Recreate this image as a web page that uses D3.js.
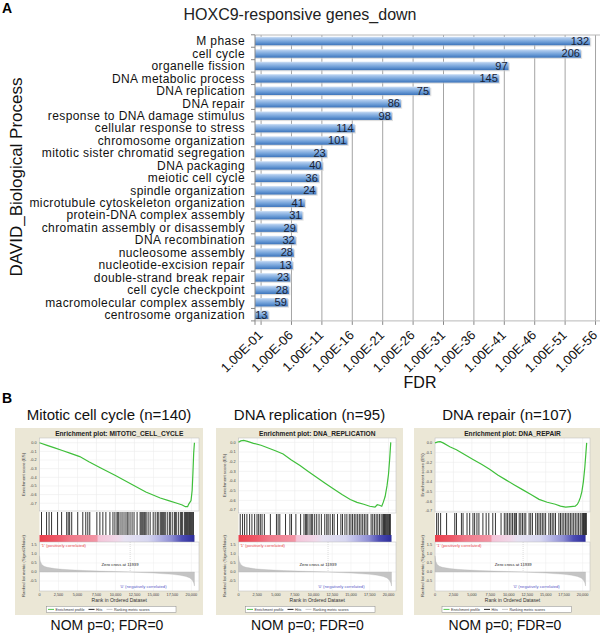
<!DOCTYPE html>
<html><head><meta charset="utf-8">
<script src="https://cdn.jsdelivr.net/npm/d3@7"></script>
<style>
body{margin:0;background:#fff;}
svg{display:block;font-family:"Liberation Sans",Arial,Helvetica,sans-serif;}
</style>
</head><body>
<svg id="c" width="600" height="635"></svg>
<script>
// ---------- Panel A data ----------
const categories = ["M phase","cell cycle","organelle fission","DNA metabolic process","DNA replication","DNA repair","response to DNA damage stimulus","cellular response to stress","chromosome organization","mitotic sister chromatid segregation","DNA packaging","meiotic cell cycle","spindle organization","microtubule cytoskeleton organization","protein-DNA complex assembly","chromatin assembly or disassembly","DNA recombination","nucleosome assembly","nucleotide-excision repair","double-strand break repair","cell cycle checkpoint","macromolecular complex assembly","centrosome organization"];
const fdrValues = [7.9e-56,2.5e-54,2.0e-42,7.9e-41,1.6e-29,1.0e-24,3.2e-23,4.0e-17,6.3e-16,1.6e-12,7.9e-12,3.2e-11,7.9e-11,6.3e-9,1.6e-8,1.3e-7,2.0e-7,4.0e-7,6.3e-7,1.6e-6,2.5e-6,4.0e-6,6.3e-3];
const geneCounts = [132,206,97,145,75,86,98,114,101,23,40,36,24,41,31,29,32,28,13,23,28,59,13];
const fdrTickLabels = ["1.00E-01","1.00E-06","1.00E-11","1.00E-16","1.00E-21","1.00E-26","1.00E-31","1.00E-36","1.00E-41","1.00E-46","1.00E-51","1.00E-56"];

// ---------- Panel B data ----------
const gseaTitles = ["Mitotic cell cycle (n=140)","DNA replication (n=95)","DNA repair (n=107)"];
const gseaPlotNames = ["MITOTIC_CELL_CYCLE","DNA_REPLICATION","DNA_REPAIR"];
const gseaStats = ["NOM p=0; FDR=0","NOM p=0; FDR=0","NOM p=0; FDR=0"];
const esCurveMitotic = [[0,0],[1000,-0.03],[2000,-0.06],[3000,-0.09],[4000,-0.12],[5300,-0.16],[6500,-0.22],[8000,-0.29],[10000,-0.38],[12300,-0.49],[14000,-0.57],[15900,-0.64],[17000,-0.67],[18100,-0.70],[18800,-0.72],[19200,-0.74],[19500,-0.74],[19650,-0.71],[19950,-0.67],[20100,-0.55],[20200,-0.35],[20300,-0.12],[20400,0]];
const esCurveReplication = [[0,0],[300,0.015],[700,0.02],[1200,0.01],[2000,-0.01],[3000,-0.03],[3700,-0.05],[5000,-0.09],[5950,-0.12],[7000,-0.18],[8200,-0.24],[9300,-0.30],[10400,-0.36],[11500,-0.42],[12640,-0.48],[13800,-0.54],[14900,-0.59],[15800,-0.62],[16700,-0.64],[17500,-0.66],[18200,-0.67],[18500,-0.645],[18800,-0.65],[19100,-0.66],[19300,-0.62],[19550,-0.56],[19800,-0.45],[20000,-0.33],[20150,-0.18],[20300,0]];
const esCurveRepair = [[0,0],[400,0.01],[700,0.012],[1100,0],[2000,-0.04],[2900,-0.07],[4000,-0.12],[5150,-0.17],[6300,-0.22],[7400,-0.27],[8500,-0.33],[9600,-0.38],[10700,-0.43],[11850,-0.48],[13000,-0.53],[14100,-0.58],[15200,-0.61],[16300,-0.63],[17000,-0.65],[17700,-0.66],[18400,-0.655],[19000,-0.65],[19300,-0.63],[19500,-0.60],[19700,-0.56],[19900,-0.50],[20100,-0.40],[20300,-0.25],[20450,-0.10],[20550,0]];
const hitsMitotic = [265,930,1260,1590,2380,2910,3580,3780,3970,4240,5030,5700,6090,6360,6620,7550,7950,8340,8740,9270,9670,9930,10200,10330,10460,10730,10990,11260,11520,11660,11920,12190,12450,12850,13250,13380,13510,13640,13780,13900,14040,14300,14570,14970,15230,15500,15630,15890,16030,16160,16290,16420,16560,16820,17090,17220,17480,17750,17880,18010,18280,18540,18680,18810,19070,19210,19340,19470,19600,19740,19870,20000,20130,20270];
const hitsReplication = [230,540,810,1120,1480,1790,2150,2470,2690,2910,3140,3450,4250,5060,5280,5510,6270,6850,7070,7650,8280,8730,8950,9090,9260,9530,9710,9890,10160,10430,10740,11050,11500,11770,11950,12220,12530,12750,13200,13650,13870,14190,14450,14770,14990,15210,15440,15660,15890,16110,16330,16560,16780,17000,17230,17680,17900,18120,18350,18570,18790,19020,19240,19350,19460,19580,19690,19800,19910,20030,20140,20250];
const hitsRepair = [220,450,760,1570,2680,2910,3580,3800,4340,4700,5140,5370,5680,5950,6490,6930,7290,7830,8190,8950,9390,9620,9840,10070,10290,10510,10740,10870,11050,11410,11630,11850,12080,12300,12750,12970,13200,13640,13870,14090,14320,14540,14760,14990,15430,15660,15880,16100,16330,16780,17000,17220,17450,17670,17890,18120,18340,18560,18790,19010,19240,19460,19680,19910,20020,20130,20240,20350,20440,20490];
const rankedMetric = [[0,0.9],[100,0.6],[300,0.42],[600,0.32],[1000,0.26],[2000,0.19],[3000,0.15],[4000,0.12],[6000,0.08],[8000,0.05],[10000,0.025],[11939,0],[13500,-0.03],[15000,-0.06],[16500,-0.10],[17500,-0.13],[18500,-0.18],[19300,-0.25],[19800,-0.33],[20100,-0.45],[20300,-0.60],[20400,-0.78]];
const rankTicks = [0,2500,5000,7500,10000,12500,15000,17500,20000];
const esTicks = [0.0,-0.1,-0.2,-0.3,-0.4,-0.5,-0.6,-0.7];
const metricTicks = [1.5,1.0,0.5,0.0,-0.5];
const legendLabels = ["Enrichment profile","Hits","Ranking metric scores"];
const zeroCross = 11939;
const listSize = 20400;

// ---------- drawing ----------
const svg = d3.select("#c");
const defs = svg.append("defs");
const bg = defs.append("linearGradient").attr("id","barGrad").attr("x1",0).attr("y1",0).attr("x2",0).attr("y2",1);
[[0,"#d3e3f6"],[0.18,"#a9c7ec"],[0.6,"#6f9fd8"],[1,"#3c74bb"]].forEach(s=>bg.append("stop").attr("offset",s[0]).attr("stop-color",s[1]));
const hg = defs.append("linearGradient").attr("id","heat").attr("x1",0).attr("y1",0).attr("x2",1).attr("y2",0);
[[0,"#ea3f4b"],[0.12,"#ee5a6a"],[0.2,"#f07a8a"],[0.37,"#f296a6"],[0.38,"#f5c4d8"],[0.5,"#f1d8e9"],[0.55,"#e6e2f2"],[0.7,"#d6d6f0"],[0.75,"#c0c0ea"],[0.85,"#8e8ed4"],[0.92,"#4c4cb4"],[1,"#2c2c9a"]].forEach(s=>hg.append("stop").attr("offset",s[0]).attr("stop-color",s[1]));

// Panel A
svg.append("text").attr("x",2).attr("y",13).attr("font-size",14).attr("font-weight","bold").text("A");
svg.append("text").attr("x",300).attr("y",20).attr("text-anchor","middle").attr("font-size",16).attr("fill","#222").text("HOXC9-responsive genes_down");

const x = d3.scaleLog().domain([1,1e-57]).range([255,601.6]);
const y = d3.scaleBand().domain(categories).range([34.8,320.9]).paddingInner(0.32).paddingOuter(0.16);
const plotTop = 35, plotBot = 320.9;
const tickVals = fdrTickLabels.map(Number);

const grid = svg.append("g");
tickVals.forEach(t=>{
  grid.append("line").attr("x1",x(t)).attr("x2",x(t)).attr("y1",plotTop).attr("y2",plotBot).attr("stroke","#a4a4a4").attr("stroke-width",1);
  grid.append("line").attr("x1",x(t)).attr("x2",x(t)).attr("y1",plotBot).attr("y2",plotBot+4).attr("stroke","#888");
});
grid.append("line").attr("x1",255).attr("x2",600).attr("y1",plotTop).attr("y2",plotTop).attr("stroke","#b8b8b8");
grid.append("line").attr("x1",255).attr("x2",600).attr("y1",plotBot).attr("y2",plotBot).attr("stroke","#b8b8b8");

// bars
svg.append("g").selectAll("rect").data(categories).join("rect")
  .attr("x",255).attr("y",d=>y(d)+1.2).attr("width",(d,i)=>x(fdrValues[i])-255+1.2).attr("height",y.bandwidth())
  .attr("fill","#c9c9c9").attr("opacity",0.6);
svg.append("g").selectAll("rect").data(categories).join("rect")
  .attr("x",255).attr("y",d=>y(d)).attr("width",(d,i)=>x(fdrValues[i])-255).attr("height",y.bandwidth())
  .attr("fill","url(#barGrad)");
svg.append("g").selectAll("text").data(categories).join("text")
  .attr("x",(d,i)=>x(fdrValues[i])-1).attr("y",d=>y(d)+y.bandwidth()/2).attr("dy","0.36em")
  .attr("text-anchor","end").attr("font-size",11).attr("fill","#1a2233").text((d,i)=>geneCounts[i]);

// category axis
const yAx = svg.append("g");
yAx.append("line").attr("x1",255).attr("x2",255).attr("y1",plotTop).attr("y2",plotBot+4).attr("stroke","#888");
d3.range(categories.length+1).forEach(i=>{
  const yy = y.range()[0]+i*y.step();
  yAx.append("line").attr("x1",251).attr("x2",255).attr("y1",yy).attr("y2",yy).attr("stroke","#888");
});
yAx.selectAll("text").data(categories).join("text")
  .attr("x",245).attr("y",d=>y(d)+y.bandwidth()/2).attr("dy","0.36em")
  .attr("text-anchor","end").attr("font-size",12).attr("letter-spacing",0.4).attr("fill","#111").text(d=>d);

// x tick labels
svg.append("g").selectAll("text").data(fdrTickLabels).join("text")
  .attr("transform",d=>`translate(${x(+d)+2.5},${plotBot+15}) rotate(-45)`)
  .attr("text-anchor","end").attr("font-size",13).attr("fill","#111").text(d=>d);
svg.append("text").attr("x",420).attr("y",388).attr("text-anchor","middle").attr("font-size",16).attr("fill","#111").text("FDR");
svg.append("text").attr("transform","translate(22,177) rotate(-90)").attr("text-anchor","middle").attr("font-size",17).attr("fill","#111").text("DAVID_Biological Process");

// Panel B
svg.append("text").attr("x",2).attr("y",403).attr("font-size",14).attr("font-weight","bold").text("B");

const panels = [
  {bx:15, bw:188, pl:39.5, pr:199, hitTop:511, esDomain:[-0.79,0.055], es:esCurveMitotic, hits:hitsMitotic},
  {bx:216, bw:187, pl:238.5, pr:396, hitTop:513, esDomain:[-0.73,0.045], es:esCurveReplication, hits:hitsReplication},
  {bx:414, bw:186, pl:435, pr:590, hitTop:512, esDomain:[-0.71,0.05], es:esCurveRepair, hits:hitsRepair}
];

panels.forEach((p,k)=>{
  const g = svg.append("g");
  const cx = p.bx + p.bw/2;
  g.append("text").attr("x",cx).attr("y",420).attr("text-anchor","middle").attr("font-size",15).attr("fill","#111").text(gseaTitles[k]);
  g.append("text").attr("x",cx-2).attr("y",630).attr("text-anchor","middle").attr("font-size",14).attr("fill","#111").text(gseaStats[k]);
  g.append("rect").attr("x",p.bx).attr("y",428).attr("width",p.bw).attr("height",187).attr("fill","#ebe7d6");
  const xs = d3.scaleLinear().domain([0,21000]).range([p.pl,p.pr]);
  const mid = (p.pl+p.pr)/2;
  g.append("text").attr("x",mid).attr("y",435.5).attr("text-anchor","middle").attr("font-size",6.6).attr("font-weight","bold").attr("fill","#222").text("Enrichment plot: "+gseaPlotNames[k]);
  g.append("rect").attr("x",p.pl).attr("y",438).attr("width",p.pr-p.pl).attr("height",591-438).attr("fill","#fff");
  // ES plot
  const ys = d3.scaleLinear().domain(p.esDomain).range([p.hitTop,438]);
  rankTicks.forEach(t=>g.append("line").attr("x1",xs(t)).attr("x2",xs(t)).attr("y1",438).attr("y2",p.hitTop).attr("stroke","#ececec").attr("stroke-width",0.6));
  esTicks.forEach(t=>{
    g.append("line").attr("x1",p.pl).attr("x2",p.pr).attr("y1",ys(t)).attr("y2",ys(t)).attr("stroke","#ececec").attr("stroke-width",0.6);
    g.append("text").attr("x",p.pl-3).attr("y",ys(t)+1.3).attr("text-anchor","end").attr("font-size",3.8).attr("fill","#444").text(t.toFixed(1));
  });
  g.append("rect").attr("x",p.pl).attr("y",438).attr("width",p.pr-p.pl).attr("height",p.hitTop-438).attr("fill","none").attr("stroke","#bbb").attr("stroke-width",0.5);
  g.append("path").datum(p.es).attr("d",d3.line().x(d=>xs(d[0])).y(d=>ys(d[1]))).attr("fill","none").attr("stroke","#3fbf3a").attr("stroke-width",1.2);
  g.append("text").attr("transform",`translate(${p.bx+10},${(438+p.hitTop)/2}) rotate(-90)`).attr("text-anchor","middle").attr("font-size",4.3).attr("fill","#444").text("Enrichment score (ES)");
  // hits
  g.append("g").selectAll("line").data(p.hits).join("line").attr("x1",d=>xs(d)).attr("x2",d=>xs(d)).attr("y1",p.hitTop+1).attr("y2",535).attr("stroke","#111").attr("stroke-width",0.85);
  // heat bar
  g.append("rect").attr("x",xs(0)).attr("y",535).attr("width",xs(listSize)-xs(0)).attr("height",7).attr("fill","url(#heat)");
  // metric plot
  const ym = d3.scaleLinear().domain([-1.056,1.667]).range([591,542]);
  rankTicks.forEach(t=>g.append("line").attr("x1",xs(t)).attr("x2",xs(t)).attr("y1",542).attr("y2",591).attr("stroke","#f0f0f0").attr("stroke-width",0.6));
  metricTicks.forEach(t=>{
    g.append("line").attr("x1",p.pl).attr("x2",p.pr).attr("y1",ym(t)).attr("y2",ym(t)).attr("stroke","#f0f0f0").attr("stroke-width",0.6);
    g.append("text").attr("x",p.pl-3).attr("y",ym(t)+1.3).attr("text-anchor","end").attr("font-size",3.8).attr("fill","#444").text(t.toFixed(1));
  });
  g.append("path").datum(rankedMetric).attr("d",d3.area().x(d=>xs(d[0])).y0(ym(0)).y1(d=>ym(d[1]))).attr("fill","#c4c4c4").attr("stroke","#b0b0b0").attr("stroke-width",0.3);
  g.append("line").attr("x1",xs(zeroCross)).attr("x2",xs(zeroCross)).attr("y1",542).attr("y2",ym(0)).attr("stroke","#aaa").attr("stroke-width",0.4).attr("stroke-dasharray","1,1");
  g.append("rect").attr("x",p.pl).attr("y",542).attr("width",p.pr-p.pl).attr("height",49).attr("fill","none").attr("stroke","#bbb").attr("stroke-width",0.5);
  g.append("text").attr("x",p.pl+1.5).attr("y",546.5).attr("font-size",4.2).attr("fill","#e8484e").text("'1' (positively correlated)");
  g.append("text").attr("x",xs(10600)).attr("y",565.5).attr("text-anchor","middle").attr("font-size",4.2).attr("fill","#222").text("Zero cross at "+zeroCross);
  g.append("text").attr("x",xs(10600)).attr("y",587.5).attr("font-size",4.2).attr("fill","#5a5ac8").text("'0' (negatively correlated)");
  g.append("text").attr("transform",`translate(${p.bx+10},566) rotate(-90)`).attr("text-anchor","middle").attr("font-size",4.2).attr("fill","#444").text("Ranked list metric (Signal2Noise)");
  rankTicks.forEach(t=>g.append("text").attr("x",xs(t)).attr("y",595.5).attr("text-anchor","middle").attr("font-size",3.8).attr("fill","#444").text(d3.format(",")(t)));
  g.append("text").attr("x",mid).attr("y",601.5).attr("text-anchor","middle").attr("font-size",5).attr("fill","#333").text("Rank in Ordered Dataset");
  // legend
  const lx = p.pl+7;
  g.append("rect").attr("x",lx).attr("y",606.3).attr("width",129.5).attr("height",6.2).attr("fill","#fff").attr("stroke","#888").attr("stroke-width",0.5);
  const itemX = [1.5, 42, 60];
  const itemC = ["#3fbf3a","#111","#c4c4c4"];
  legendLabels.forEach((lab,i)=>{
    g.append("line").attr("x1",lx+itemX[i]).attr("x2",lx+itemX[i]+6).attr("y1",609.4).attr("y2",609.4).attr("stroke",itemC[i]).attr("stroke-width",0.9);
    g.append("text").attr("x",lx+itemX[i]+7.5).attr("y",610.8).attr("font-size",3.6).attr("fill","#333").text(lab);
  });
});
</script>
</body></html>
